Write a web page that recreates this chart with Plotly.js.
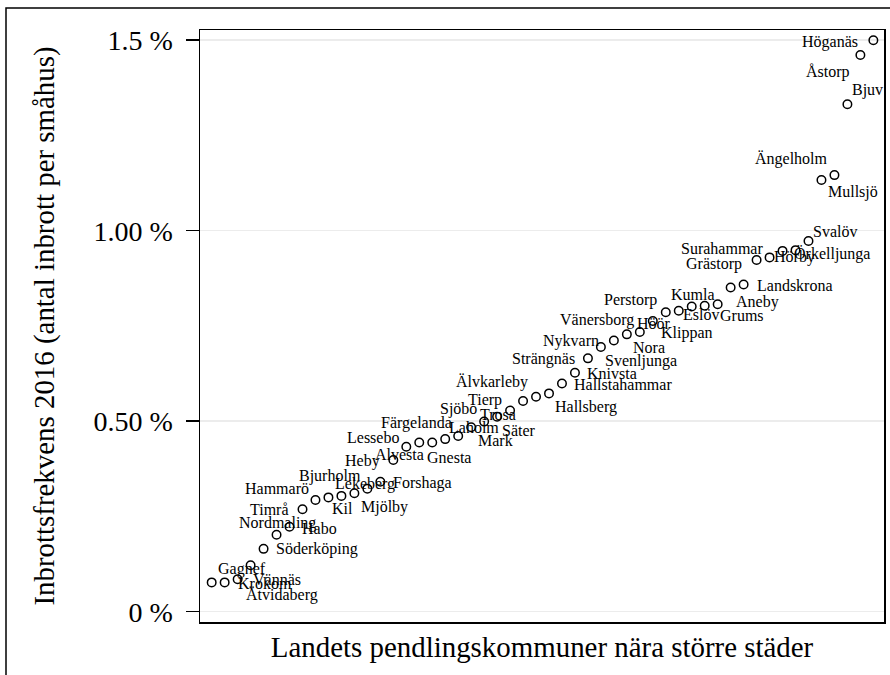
<!DOCTYPE html>
<html>
<head>
<meta charset="utf-8">
<script src="https://cdn.plot.ly/plotly-3.0.1.min.js"></script>
<style>html,body{margin:0;padding:0;background:#fff;}#chart{width:890px;height:675px;}</style>
</head>
<body>
<div id="chart"></div>
<script>
// Municipalities (ranked by burglary frequency)
var kommuner = ["Gagnef","Krokom","Ätvidaberg","Vännäs","Söderköping","Nordmaling","Habo","Timrå","Hammarö","Bjurholm",
  "Kil","Mjölby","Lekeberg","Forshaga","Heby","Lessebo","Alvesta","Färgelanda","Gnesta","Laholm",
  "Sjöbo","Mark","Trosa","Tierp","Säter","Älvkarleby","Hallsberg","Hallstahammar","Knivsta","Strängnäs",
  "Svenljunga","Nykvarn","Nora","Vänersborg","Höör","Perstorp","Klippan","Kumla","Eslöv","Grums",
  "Aneby","Landskrona","Grästorp","Surahammar","Hörby","Örkelljunga","Svalöv","Ängelholm","Mullsjö","Bjuv",
  "Åstorp","Höganäs"];
// Burglary frequency 2016 (percent of detached houses)
var frekvens = [0.077,0.077,0.085,0.122,0.165,0.202,0.223,0.269,0.293,0.300,
  0.304,0.311,0.323,0.341,0.398,0.433,0.444,0.444,0.453,0.461,
  0.484,0.499,0.512,0.528,0.553,0.564,0.573,0.599,0.627,0.665,
  0.695,0.712,0.728,0.734,0.763,0.786,0.790,0.801,0.803,0.807,
  0.851,0.859,0.923,0.930,0.947,0.949,0.973,1.133,1.146,1.332,
  1.461,1.500];
// rank on x axis
var rang = kommuner.map(function(_, i){ return i + 1; });
// y tick labels
var yTickVals = [0, 0.5, 1.0, 1.5];
var yTickText = ["0 %", "0.50 %", "1.00 %", "1.5 %"];

// label placement offsets (pixels, right / down) relative to each marker
var labelDx = [30,40.2,44.8,26,53.9,1.3,29.7,-33,-38.6,1.1,
  1,30,-2.3,42.5,-30.7,-33.4,-20,-15.9,4,16,
  -12.4,11.7,0.6,-25,-4.2,-44.1,37.4,61,37.5,-44.4,
  40.4,-43.2,22.1,-42.6,1.3,-35.5,7.8,1.5,-3.7,24,
  26.7,51.8,-42.7,-47.7,11.9,36.7,26.7,-29.5,19,20.3,
  -32.2,-43.3];
var labelDy = [-13.6,1,16,14,0.5,-12.2,1.3,0,-11.3,-21.6,
  12.8,13.9,-5,1.1,1.3,-9.5,12,-19.9,18.2,-8.8,
  -18.3,18.8,-1.7,-10.5,29.5,-15,14,1.5,1,1,
  14.2,1,13.5,-11.7,2.8,-11.8,22.6,-11.8,8.9,11.2,
  14.5,0.8,3.8,-9.3,6,3.8,-9.7,-21.3,17,-13.8,
  17,2];

var serif = "Liberation Serif, Times New Roman, serif";

var trace = {
  x: rang, y: frekvens, type: "scatter", mode: "markers",
  marker: {symbol: "circle-open", size: 8.5, color: "#000", line: {width: 1.5, color: "#000"}},
  hoverinfo: "text", text: kommuner, showlegend: false
};

var annotations = kommuner.map(function(name, i){
  return {x: rang[i], y: frekvens[i], xref: "x", yref: "y", text: name, showarrow: false,
    xanchor: "center", yanchor: "middle", xshift: labelDx[i], yshift: -labelDy[i],
    font: {family: serif, size: 16, color: "#000"}};
});

var L = 200, R = 6, T = 30, B = 53, W = 890, H = 675;
var pw = W - L - R, ph = H - T - B;

var layout = {
  width: W, height: H,
  margin: {l: L, r: R, t: T, b: B, pad: 0},
  paper_bgcolor: "#fff", plot_bgcolor: "#fff",
  font: {family: serif, color: "#000"},
  xaxis: {range: [0.1, 52.82], showticklabels: false, ticks: "", showgrid: false, zeroline: false,
    showline: true, mirror: true, linecolor: "#000", linewidth: 1.5,
    title: {text: "Landets pendlingskommuner nära större städer", font: {family: serif, size: 28.9, color: "#000"}, standoff: 14}},
  yaxis: {range: [-0.027, 1.5268], tickvals: yTickVals, ticktext: yTickText,
    ticks: "outside", ticklen: 13, tickwidth: 1.5, tickcolor: "#000", ticklabelstandoff: 7,
    showgrid: true, gridcolor: "#ececec", gridwidth: 1.5, zeroline: false,
    showline: true, mirror: true, linecolor: "#000", linewidth: 1.5,
    tickfont: {family: serif, size: 28, color: "#000"},
    title: {text: "Inbrottsfrekvens 2016 (antal inbrott per småhus)", font: {family: serif, size: 28.9, color: "#000"}, standoff: 30}},
  annotations: annotations,
  shapes: [{type: "rect", xref: "paper", yref: "paper",
    x0: (6 - L) / pw, x1: 1.5, y0: -0.5, y1: 1 + (T - 8) / ph,
    line: {color: "#000", width: 1.5}, fillcolor: "rgba(0,0,0,0)", layer: "above"}]
};

Plotly.newPlot("chart", [trace], layout, {displayModeBar: false, staticPlot: true});
</script>
</body>
</html>
